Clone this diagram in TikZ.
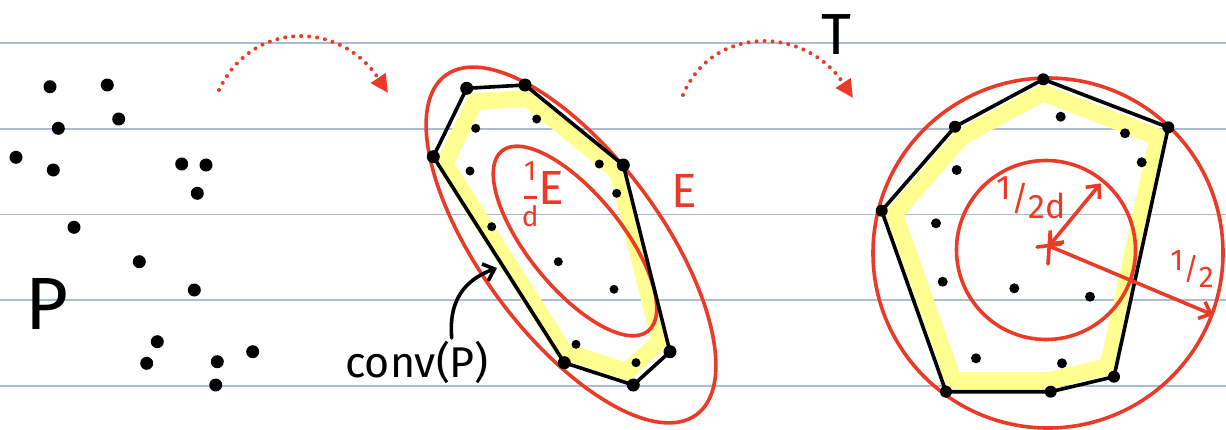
\documentclass[tikz,border=0pt]{standalone}
\usepackage{fontspec}
\setmainfont{Fira Sans}
\usetikzlibrary{arrows.meta,calc}
\definecolor{stiftrot}{RGB}{234,58,40}
\definecolor{linienblau}{RGB}{172,188,212}
\definecolor{marker}{RGB}{255,255,145}
\begin{document}
\begin{tikzpicture}[x=1pt, y=-1pt,
    rot/.style={stiftrot, line width=3.6pt, line cap=round},
    huelle/.style={black, line width=3.6pt, line join=round},
    band/.style={marker, line width=17pt, line join=round, line cap=round},
    pfeil/.style={stiftrot, line width=4pt, line cap=round, dash pattern=on 0pt off 8pt,
      -{Triangle[length=18pt,width=17pt]}},
    >={Straight Barb[length=10pt,width=18pt]},   %Voreinstellung für Pfeilspitzen
    font=\fontsize{40}{44}\selectfont]
    \useasboundingbox (0,0) rectangle (1226,429);
    %Linien des Blattes
    \foreach \y in {43,129,214.5,300,386} \draw[linienblau, line width=1.5pt] (0,\y) -- (1226,\y);
    % Punktmenge P
    \foreach \x/\y in {50/86.7, 107.3/85, 118.7/119, 58.3/128.3, 16/157.3, 53.3/170, 181.7/164,
      206/165, 197.3/193.3, 74/227.3, 139.3/261.7, 194.3/290, 157.3/341.7, 146.7/363.3,
      217.3/361.7, 252.7/351.7, 215.7/385} \fill (\x,\y) circle (6.5);
    \node (plab) at (47,304) {\fontsize{74}{74}\selectfont P};
    % gepunktete Pfeile
    \coordinate (p1a) at (219,90);
    \coordinate (p1b) at (388,93);
    \coordinate (p2a) at (683,95);
    \coordinate (p2b) at (853,98);
    \draw[pfeil] (p1a) .. controls (252,20) and (340,20) .. (p1b);
    \draw[pfeil] (p2a) .. controls (712,25) and (805,25) .. (p2b);
    \node (tlab) at (836,35) {\fontsize{58}{58}\selectfont T};
    % Mitte: Huelle und Ellipsen
    \coordinate (m1) at (466.7,88.3);
    \coordinate (m2) at (525,85);
    \coordinate (m3) at (623.3,165);
    \coordinate (m4) at (670,351.7);
    \coordinate (m5) at (633.3,385);
    \coordinate (m6) at (564.3,362.7);
    \coordinate (m7) at (433.3,156.7);
    \coordinate (mz) at (560,235);
    \draw[band] ($(m1)!0.09!(mz)$) -- ($(m2)!0.09!(mz)$) -- ($(m3)!0.09!(mz)$) -- ($(m4)!0.09!(mz)$)
      -- ($(m5)!0.09!(mz)$) -- ($(m6)!0.09!(mz)$) -- ($(m7)!0.09!(mz)$) -- cycle;
    \draw[rot, rotate around={-53.5:(571,245)}] (571,245) ellipse [x radius=211, y radius=90];
    \draw[rot, rotate around={-50.9:(575,241)}] (575,241) ellipse [x radius=116, y radius=47];
    \draw[huelle] (m1) -- (m2) -- (m3) -- (m4) -- (m5) -- (m6) -- (m7) -- cycle;
    \foreach \i in {1,...,7} \fill (m\i) circle (6.5);
    \foreach \x/\y in {536.7/119, 475.7/128.3, 599.3/164, 470/171, 616.7/193.3, 491.7/226.7,
      558.3/261.7, 614/289.3, 576/344.3, 636/362.7} \fill (\x,\y) circle (4.5);
    \node[stiftrot] (elab) at (684,191) {\fontsize{48}{48}\selectfont E};
    \node[stiftrot, inner sep=0pt] (edlab) at (543,198) {\fontsize{28}{28}\selectfont
      \begin{tabular}[c]{@{}c@{}}1\\[-10pt]\rule{13pt}{2.5pt}\\[-2pt]d\end{tabular}\fontsize{48}{48}\selectfont E};
    \node (convlab) at (417,362) {\fontsize{43}{43}\selectfont conv(P)};
    \coordinate (convfuss) at (451.7,338);
    \coordinate (kante) at (497,268);
    \draw[line width=3.6pt, line cap=round, ->] (convfuss) .. controls (448,295) and (470,278) .. (kante);
    % Rechts: Huelle und Kreise
    \coordinate (r1) at (1043.3,79.3);
    \coordinate (r2) at (1168.3,127.3);
    \coordinate (r3) at (1114,376.7);
    \coordinate (r4) at (1050.7,391.7);
    \coordinate (r5) at (946,391.7);
    \coordinate (r6) at (881.7,210.7);
    \coordinate (r7) at (955,126.7);
    \coordinate (rz) at (1040,250);
    \draw[band] ($(r1)!0.08!(rz)$) -- ($(r2)!0.08!(rz)$) -- ($(r3)!0.08!(rz)$) -- ($(r4)!0.08!(rz)$)
      -- ($(r5)!0.08!(rz)$) -- ($(r6)!0.08!(rz)$) -- ($(r7)!0.08!(rz)$) -- cycle;
    \draw[rot] (1048,253) circle (175);
    \draw[rot] (1046,250) circle (89.5);
    \draw[huelle] (r1) -- (r2) -- (r3) -- (r4) -- (r5) -- (r6) -- (r7) -- cycle;
    \foreach \i in {1,...,7} \fill (r\i) circle (6);
    \foreach \x/\y in {1060.7/116.7, 1125/133.3, 1141.7/162.3, 956.7/170, 936/223.3, 942.7/281.7,
      1014.3/288.3, 1090/296.7, 976/358.3, 1062/363.3} \fill (\x,\y) circle (5);
    % Mittelpunkt und Radien
    \coordinate (mitte) at (1049,246);
    \coordinate (innen) at (1100.7,183.3);
    \coordinate (aussen) at (1213.3,315);
    \draw[rot] (1037,247) -- (1061,244);
    \draw[rot] (1050,234) -- (1048,264);
    \draw[rot, <->] (mitte) -- (innen);
    \draw[rot, ->] (mitte) -- (aussen);
    \node[stiftrot, inner sep=0pt] (halbd) at (1031,198) {\fontsize{34}{34}\selectfont\raisebox{0.3em}{1}/\raisebox{-0.25em}{2d}};
    \node[stiftrot, inner sep=0pt] (halb) at (1192,269) {\fontsize{30}{30}\selectfont\raisebox{0.3em}{1}/\raisebox{-0.25em}{2}};
\end{tikzpicture}
\end{document}
